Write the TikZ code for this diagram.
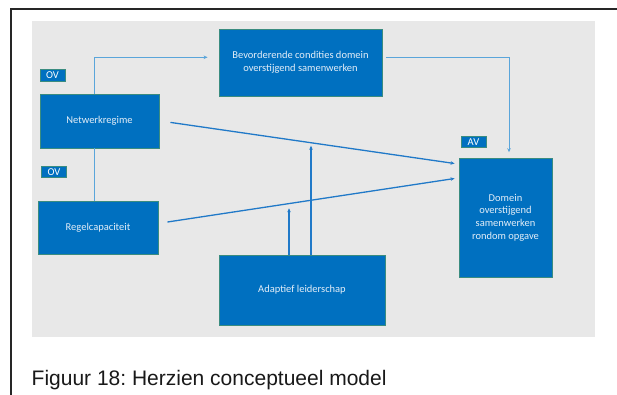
\documentclass[tikz,border=0pt]{standalone}
\usepackage{fontspec}
\setmainfont{Carlito}
\newfontfamily\capfont{Liberation Sans}
\usetikzlibrary{arrows.meta,calc}
\frenchspacing
\definecolor{boxblue}{HTML}{0070C0}
\definecolor{boxedge}{HTML}{3A8C80}
\definecolor{panel}{HTML}{E8E8E8}
\definecolor{lightline}{HTML}{5AA5DA}
\definecolor{darkline}{HTML}{2079C8}
\definecolor{boxtext}{HTML}{E4EEF8}
\tikzset{
  blk/.style={draw=boxedge, line width=0.9pt, fill=boxblue, text=boxtext, inner sep=0pt,
    font=\fontsize{10.5}{12.8}\selectfont, align=center},
  tag/.style={draw=boxedge, line width=1pt, fill=boxblue, text=white, inner sep=0pt,
    minimum width=25pt, minimum height=11.5pt, font=\fontsize{10.5}{11}\selectfont},
  elbow/.style={draw=lightline, line width=1pt},
  diag/.style={draw=darkline, line width=1.3pt},
  tip/.style={-{Stealth[length=4pt,width=3.5pt]}}
}
\begin{document}
\begin{tikzpicture}[x=1pt,y=-1pt]
\useasboundingbox (0,0) rectangle (617,394);
\fill[white] (0,0) rectangle (617,394);
% outer frame
\draw[line width=2pt, black!85] (11,395) -- (11,9) -- (618,9);
% panel
\fill[panel] (32,21) rectangle (595,337);

% boxes
\node[blk, minimum width=163pt, minimum height=67pt] (bev) at (300.5,62.5)
  {Bevorderende condities domein\\overstijgend samenwerken};
\node[blk, minimum width=119pt, minimum height=54pt] (net) at (99.5,121) {Netwerkregime};
\node[blk, minimum width=120pt, minimum height=53pt] (regel) at (98,227.5) {Regelcapaciteit};
\node[blk, minimum width=166pt, minimum height=70pt] (adapt) at (302,290)
  {\raisebox{-7pt}{Adaptief leiderschap}};
\node[blk, minimum width=93pt, minimum height=119pt] (dom) at (505.5,217.5)
  {Domein\\overstijgend\\samenwerken\\rondom opgave};

% tags
\node[tag] (ov1) at (52.5,75.5) {OV};
\node[tag] (ov2) at (54,172) {OV};
\node[tag] (av) at (473.5,142) {AV};

% connectors
\draw[elbow, tip] ([xshift=-5.2pt]net.north) |- ([xshift=-11pt,yshift=5.2pt]bev.west);
\draw[elbow, tip] ([xshift=4pt,yshift=5.2pt]bev.east) -| ([xshift=3.5pt,yshift=5.3pt]dom.north);
\draw[elbow] ([xshift=-5.2pt]net.south) -- ([xshift=-5.2pt]net.south |- regel.north);
\draw[diag, tip] ([xshift=11pt,yshift=-1.4pt]net.east) -- ([xshift=-4pt,yshift=54pt]dom.west);
\draw[diag, tip] ([xshift=9pt,yshift=5.5pt]regel.east) -- ([xshift=-4pt,yshift=39pt]dom.west);

\coordinate (m1) at (311,145.7);
\coordinate (m2) at (289,208.3);
\draw[diag, tip] ([xshift=9pt]adapt.north) -- (m1);
\draw[diag, tip] ([xshift=-13pt]adapt.north) -- (m2);

% caption
\node[anchor=base west, inner sep=0pt, font=\capfont\fontsize{21}{24}\selectfont, text=black!90] (cap) at (31.5,385)
  {Figuur 18: Herzien conceptueel model};
\end{tikzpicture}
\end{document}
